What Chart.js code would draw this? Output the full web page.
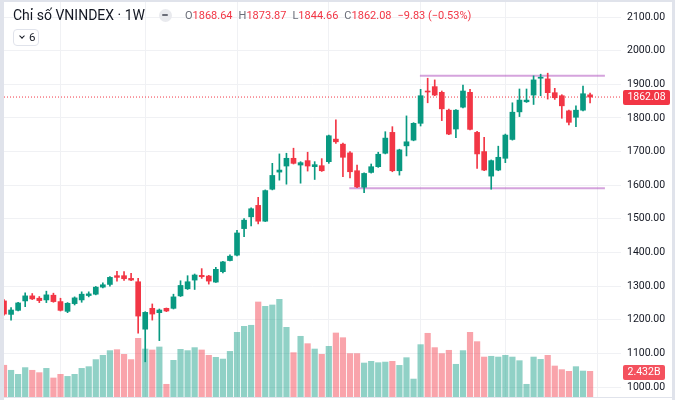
<!DOCTYPE html>
<html>
<head>
<meta charset="utf-8">
<script src="https://cdn.jsdelivr.net/npm/chart.js@4.4.1/dist/chart.umd.min.js"></script>
<style>
  html, body { margin: 0; padding: 0; background: #fff; }
  #wrap { position: relative; width: 675px; height: 400px; overflow: hidden; font-family: Roboto, "Noto Sans", sans-serif; }
  #myChart { position: absolute; left: 0; top: 0; }
  .legend { position: absolute; left: 13px; top: 7px; display: flex; align-items: center; white-space: nowrap; }
  .name { font-size: 14px; color: #131722; }
  .dot { width: 13px; height: 13px; border-radius: 50%; background: #e9eaee; margin-left: 14px; position: relative; }
  .dot::after { content: ""; position: absolute; left: 3.5px; top: 5.5px; width: 6px; height: 2px; background: #6a6d78; border-radius: 1px; }
  .ohlc { font-size: 11px; margin-left: 13px; display: flex; }
  .ohlc .k { color: #6a6d78; }
  .ohlc .v { color: #F23645; margin-right: 6px; }
  .badge { position: absolute; left: 13px; top: 29px; width: 24px; height: 15px; border: 1px solid #e0e3eb; border-radius: 4px; font-size: 11.5px; color: #131722; }
  .badge .chev { position: absolute; left: 6px; top: 4px; width: 3px; height: 3px; border-right: 1.2px solid #131722; border-bottom: 1.2px solid #131722; transform: rotate(45deg); }
  .badge .n { position: absolute; left: 15px; top: 0px; line-height: 15px; }
</style>
</head>
<body>
<div id="wrap">
  <canvas id="myChart" width="675" height="400"></canvas>
  <div class="legend">
    <span class="name">Chỉ số VNINDEX · 1W</span>
    <span class="dot"></span>
    <span class="ohlc" id="ohlc"></span>
  </div>
  <div class="badge"><span class="chev"></span><span class="n">6</span></div>
</div>
<script>
// weekly candles (index 83 = latest week)
const opens = [1256, 1216, 1228, 1256, 1271, 1264, 1259, 1273, 1254, 1225, 1248, 1259, 1272, 1276, 1297, 1305, 1331, 1331, 1323, 1313,
  1172, 1234, 1221, 1234, 1234, 1271, 1292, 1318, 1332, 1330, 1312, 1343, 1376, 1392, 1471, 1506, 1540, 1493, 1588, 1639,
  1657, 1680, 1660, 1673, 1655, 1658, 1670, 1737, 1722, 1696, 1643, 1594, 1638, 1655, 1695, 1757, 1643, 1717, 1734, 1784,
  1880, 1893, 1876, 1823, 1767, 1832, 1876, 1757, 1700, 1627, 1645, 1680, 1736, 1818, 1848, 1868, 1918, 1916, 1875, 1866,
  1821, 1802, 1823, 1868.64];
const highs = [1260, 1236, 1252, 1280, 1278, 1269, 1285, 1279, 1264, 1251, 1268, 1283, 1283, 1299, 1310, 1328, 1344, 1343, 1338, 1323,
  1224, 1247, 1232, 1235, 1276, 1316, 1331, 1336, 1352, 1332, 1356, 1374, 1393, 1466, 1501, 1533, 1564, 1586, 1665, 1693,
  1695, 1710, 1670, 1698, 1670, 1679, 1749, 1794, 1725, 1700, 1660, 1637, 1663, 1698, 1759, 1774, 1707, 1806, 1786, 1885,
  1918, 1913, 1880, 1826, 1825, 1898, 1885, 1760, 1742, 1675, 1716, 1752, 1845, 1886, 1886, 1925, 1930, 1933, 1888, 1869,
  1823, 1836, 1895, 1873.87];
const lows = [1214, 1199, 1226, 1239, 1260, 1251, 1251, 1252, 1226, 1221, 1244, 1252, 1268, 1274, 1295, 1300, 1315, 1317, 1316, 1160,
  1075, 1199, 1138, 1224, 1232, 1269, 1290, 1290, 1323, 1306, 1311, 1339, 1375, 1390, 1447, 1479, 1485, 1492, 1586, 1615,
  1603, 1663, 1606, 1642, 1617, 1641, 1665, 1724, 1625, 1622, 1593, 1578, 1636, 1653, 1693, 1640, 1630, 1687, 1732, 1776,
  1845, 1866, 1792, 1750, 1741, 1830, 1764, 1650, 1643, 1588, 1643, 1667, 1734, 1804, 1846, 1840, 1866, 1856, 1855, 1799,
  1779, 1774, 1821, 1844.66];
const closes = [1217, 1229, 1250, 1271, 1262, 1257, 1274, 1254, 1228, 1249, 1265, 1276, 1277, 1297, 1304, 1326, 1326, 1322, 1318, 1211,
  1222, 1217, 1229, 1226, 1268, 1302, 1313, 1333, 1328, 1315, 1350, 1372, 1389, 1458, 1496, 1530, 1493, 1584, 1629, 1645,
  1680, 1665, 1667, 1657, 1661, 1643, 1747, 1729, 1683, 1640, 1595, 1635, 1655, 1692, 1740, 1643, 1705, 1729, 1784, 1866,
  1877, 1868, 1827, 1752, 1823, 1880, 1766, 1693, 1645, 1673, 1683, 1749, 1817, 1853, 1853, 1913, 1921, 1875, 1860, 1836,
  1787, 1823, 1871.91, 1862.08];
// volume in billions
const volumes = [3.0, 2.53, 2.15, 2.78, 2.53, 2.31, 2.71, 1.81, 2.15, 1.96, 2.15, 2.71, 2.87, 3.53, 3.93, 4.37, 4.46, 4.02, 3.53, 5.52,
  4.52, 4.43, 4.71, 1.22, 3.46, 4.49, 4.37, 4.65, 4.43, 3.93, 3.74, 3.58, 4.30, 6.08, 6.64, 6.74, 8.92, 8.51, 8.64, 9.17,
  6.55, 4.18, 5.71, 5.02, 4.52, 4.02, 4.77, 6.02, 5.58, 4.09, 4.09, 3.21, 3.37, 3.24, 3.30, 3.37, 2.99, 3.71, 1.71, 4.93,
  5.99, 4.65, 4.09, 4.40, 3.09, 4.37, 6.08, 5.21, 3.77, 3.84, 3.77, 3.93, 3.77, 3.43, 1.22, 3.77, 3.55, 3.93, 2.93, 2.59,
  2.43, 2.87, 2.46, 2.432];

const priceTicks = [1000, 1100, 1200, 1300, 1400, 1500, 1600, 1700, 1800, 1900, 2000, 2100];
const quarterWeeks = [8, 20, 33, 46, 59, 71, 84];
// drawn levels: [fromWeek, toWeek, price]
const resistance = [58.9, 85.1, 1925.5];
const support = [48.9, 85.1, 1590.8];

const X_MIN = 0, X_MAX = 87.38;
const UP = "#089981", DOWN = "#F23645";
const UP_VOL = "rgba(8,153,129,0.45)", DOWN_VOL = "rgba(242,54,69,0.45)";

const n = closes.length;
const last = n - 1;
const isUp = closes.map((c, i) => c >= opens[i]);
const candleColor = isUp.map(u => (u ? UP : DOWN));
const volColor = isUp.map(u => (u ? UP_VOL : DOWN_VOL));

const bodies = closes.map((c, i) => ({ x: i, y: [Math.min(opens[i], c), Math.max(opens[i], c)] }));
const wicks = closes.map((c, i) => ({ x: i, y: [lows[i], highs[i]] }));
const vols = volumes.map((v, i) => ({ x: i, y: v }));

function levelLine(l) {
  return [{ x: l[0], y: l[2] }, { x: l[1], y: l[2] }];
}

// legend text
const chg = closes[last] - closes[last - 1];
const pct = (chg / closes[last - 1]) * 100;
const fmt = v => (v < 0 ? "\u2212" + Math.abs(v).toFixed(2) : v.toFixed(2));
const parts = [["O", opens[last].toFixed(2)], ["H", highs[last].toFixed(2)], ["L", lows[last].toFixed(2)], ["C", closes[last].toFixed(2)],
  ["", fmt(chg) + " (" + fmt(pct) + "%)"]];
document.getElementById("ohlc").innerHTML = parts
  .map(p => `<span class="k">${p[0]}</span><span class="v">${p[1]}</span>`)
  .join("");

const frame = {
  id: "frame",
  beforeDraw(chart) {
    const ctx = chart.ctx;
    ctx.save();
    ctx.fillStyle = "#ffffff";
    ctx.fillRect(0, 0, chart.width, chart.height);
    ctx.restore();
  },
  afterDraw(chart) {
    const ctx = chart.ctx;
    const ys = chart.scales.y;
    const yv = chart.scales.yv;
    const left = chart.chartArea.right + 2;
    ctx.save();
    // last price / last volume tags
    const tag = (yy, w, text, color) => {
      ctx.fillStyle = color;
      ctx.beginPath();
      ctx.roundRect(left, Math.round(yy) - 7, w, 15, 2);
      ctx.fill();
      ctx.fillStyle = "#fff";
      ctx.font = "10.5px Roboto";
      ctx.textAlign = "center";
      ctx.textBaseline = "middle";
      ctx.fillText(text, left + w / 2, Math.round(yy) + 0.5);
    };
    tag(ys.getPixelForValue(closes[last]), 47, closes[last].toFixed(2), DOWN);
    tag(yv.getPixelForValue(volumes[last]) + 1, 42, volumes[last].toFixed(3) + "B", "#f4515e");
    // pane border
    ctx.fillStyle = "#e0e3eb";
    ctx.fillRect(0, 0, 4, chart.height);
    ctx.fillRect(0, 0, chart.width, 2);
    ctx.fillRect(chart.width - 3, 0, 3, chart.height);
    ctx.fillRect(0, 397, chart.width, 1);
    ctx.restore();
  }
};

const ctx = document.getElementById("myChart").getContext("2d");
const myChart = new Chart(ctx, {
  data: {
    datasets: [
      {
        type: "bar",
        data: bodies,
        backgroundColor: candleColor,
        barThickness: 5,
        grouped: false,
        yAxisID: "y",
        order: 0
      },
      {
        type: "bar",
        data: wicks,
        backgroundColor: candleColor,
        barThickness: 1,
        grouped: false,
        yAxisID: "y",
        order: 1
      },
      {
        type: "line",
        data: [{ x: X_MIN, y: closes[last] }, { x: X_MAX, y: closes[last] }],
        borderColor: DOWN,
        borderWidth: 1,
        borderDash: [1, 2],
        pointRadius: 0,
        yAxisID: "y",
        order: 2
      },
      {
        type: "line",
        data: levelLine(resistance),
        borderColor: "rgba(171,71,188,0.5)",
        borderWidth: 2,
        pointRadius: 0,
        yAxisID: "y",
        order: 2
      },
      {
        type: "line",
        data: levelLine(support),
        borderColor: "rgba(171,71,188,0.5)",
        borderWidth: 2,
        pointRadius: 0,
        yAxisID: "y",
        order: 2
      },
      {
        type: "bar",
        data: vols,
        backgroundColor: volColor,
        barPercentage: 0.88,
        categoryPercentage: 1,
        grouped: false,
        yAxisID: "yv",
        order: 5
      }
    ]
  },
  options: {
    responsive: false,
    animation: false,
    layout: { padding: { left: 4, top: 2, right: 3, bottom: 3 } },
    plugins: {
      legend: { display: false },
      tooltip: { enabled: false }
    },
    scales: {
      x: {
        type: "linear",
        min: X_MIN,
        max: X_MAX,
        offset: false,
        afterBuildTicks: s => {
          s.ticks = quarterWeeks.map(v => ({ value: v }));
        },
        afterFit: s => {
          s.height = 0;
          s.paddingLeft = 0;
          s.paddingRight = 0;
        },
        ticks: { display: false },
        grid: { color: "#f0f1f4", drawTicks: false, offset: false },
        border: { display: false }
      },
      y: {
        position: "right",
        min: 970.4,
        max: 2144.6,
        afterBuildTicks: s => {
          s.ticks = priceTicks.map(v => ({ value: v }));
        },
        afterFit: s => {
          s.width = 51;
          s.paddingTop = 0;
          s.paddingBottom = 0;
        },
        ticks: {
          callback: v => v.toFixed(2),
          color: "#131722",
          font: { family: "Roboto", size: 10.5 },
          padding: 6
        },
        grid: { color: "#f0f1f4", drawTicks: false },
        border: { display: false }
      },
      yv: {
        display: false,
        min: 0,
        max: 36.95
      }
    }
  },
  plugins: [frame]
});
</script>
</body>
</html>
